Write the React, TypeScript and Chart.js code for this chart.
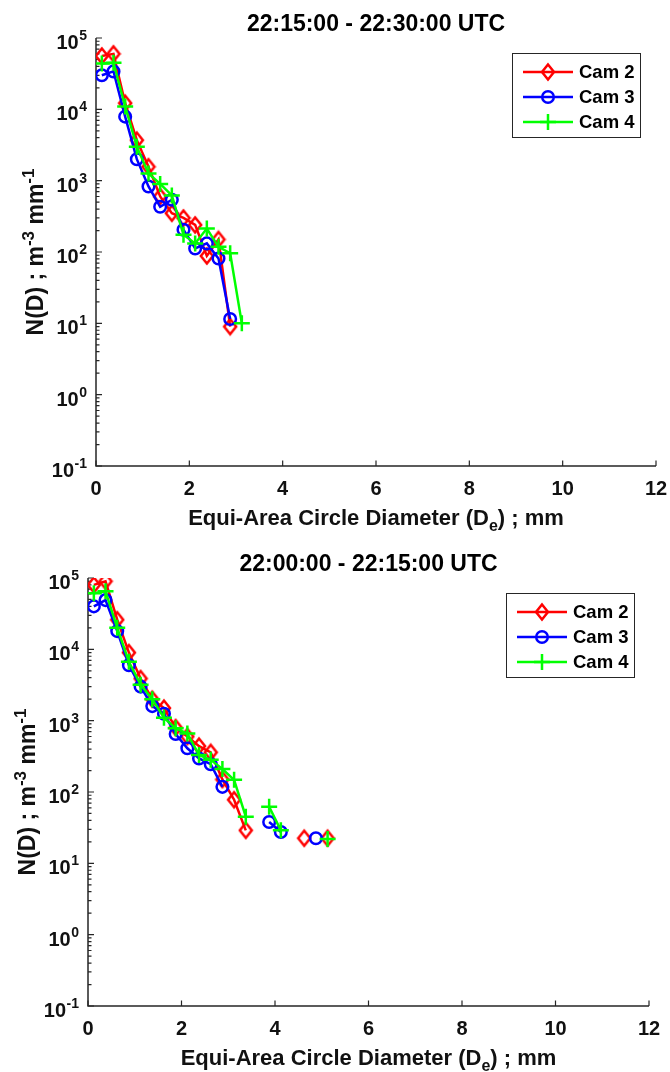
import React, { useEffect, useRef } from 'react';
import { Chart, registerables } from 'chart.js';

Chart.register(...registerables);

const FONT = '"Liberation Sans", Arial, Helvetica, sans-serif';
const AXIS_COLOR = '#262626';
const TEXT_COLOR = '#111111';
const RED = '#ff0000';
const BLUE = '#0000ff';
const GREEN = '#00ff00';

// ---- text ----
const topTitle = '22:15:00 - 22:30:00 UTC';
const bottomTitle = '22:00:00 - 22:15:00 UTC';
const seriesNames = ['Cam 2', 'Cam 3', 'Cam 4'];
const xTickValues = [0, 2, 4, 6, 8, 10, 12];
const yTickExponents = [-1, 0, 1, 2, 3, 4, 5];

// ---- top panel (22:15 - 22:30) ----
const topDiameters = [0.125, 0.375, 0.625, 0.875, 1.125, 1.375, 1.625, 1.875, 2.125, 2.375, 2.625, 2.875, 3.125];
const topCam2 = [5.6e4, 6.0e4, 1.22e4, 3.7e3, 1.57e3, 600, 350, 300, 240, 88, 150, 9, null];
const topCam3 = [3.0e4, 3.4e4, 7.9e3, 2.0e3, 830, 430, 540, 205, 112, 132, 81, 11.5, null];
const topCam4 = [4.4e4, 4.5e4, 1.1e4, 3.0e3, 1.26e3, 900, 620, 174, 132, 213, 118, 96, 10];

// ---- bottom panel (22:00 - 22:15) ----
const bottomDiameters = [
  0.125, 0.375, 0.625, 0.875, 1.125, 1.375, 1.625, 1.875, 2.125, 2.375, 2.625,
  2.875, 3.125, 3.375, 3.625, 3.875, 4.125, 4.375, 4.625, 4.875, 5.125,
];
const bottomCam2 = [8.0e4, 9.0e4, 2.6e4, 9.0e3, 3.9e3, 2.0e3, 1.5e3, 800, 600, 440, 360, 150, 78, 29, null, null, null, null, 22.5, null, 22.5];
const bottomCam3 = [4.0e4, 4.9e4, 1.8e4, 6.0e3, 3.0e3, 1.6e3, 1.25e3, 650, 410, 295, 245, 118, null, null, null, 38, 27.5, null, null, 22.5, null];
const bottomCam4 = [6.1e4, 6.5e4, 2.0e4, 6.7e3, 3.2e3, 2.0e3, 1.1e3, 780, 660, 330, 283, 210, 148, 45, null, 62, 29, null, null, null, 22];

type Part = { t: string; size: number; dy: number };

function drawRich(ctx: CanvasRenderingContext2D, parts: Part[], cx: number, baseY: number) {
  let total = 0;
  const widths = parts.map((p) => {
    ctx.font = `bold ${p.size}px ${FONT}`;
    const w = ctx.measureText(p.t).width;
    total += w;
    return w;
  });
  let x = cx - total / 2;
  ctx.textAlign = 'left';
  ctx.textBaseline = 'alphabetic';
  parts.forEach((p, i) => {
    ctx.font = `bold ${p.size}px ${FONT}`;
    ctx.fillText(p.t, x, baseY + p.dy);
    x += widths[i];
  });
}

function makeDiamond(color: string): HTMLCanvasElement {
  const c = document.createElement('canvas');
  c.width = 16;
  c.height = 20;
  const g = c.getContext('2d')!;
  g.strokeStyle = color;
  g.lineWidth = 2.5;
  g.lineJoin = 'miter';
  g.beginPath();
  g.moveTo(8, 2.5);
  g.lineTo(14, 10);
  g.lineTo(8, 17.5);
  g.lineTo(2, 10);
  g.closePath();
  g.stroke();
  return c;
}

function drawLegendMarker(ctx: CanvasRenderingContext2D, kind: number, x: number, y: number, color: string, diamond: HTMLCanvasElement) {
  ctx.strokeStyle = color;
  ctx.lineWidth = 2.5;
  if (kind === 0) {
    ctx.drawImage(diamond, x - diamond.width / 2, y - diamond.height / 2);
  } else if (kind === 1) {
    ctx.beginPath();
    ctx.arc(x, y, 5.8, 0, Math.PI * 2);
    ctx.stroke();
  } else {
    ctx.beginPath();
    ctx.moveTo(x - 8, y);
    ctx.lineTo(x + 8, y);
    ctx.moveTo(x, y - 8);
    ctx.lineTo(x, y + 8);
    ctx.stroke();
  }
}

function makeDecor(title: string, legendX: number, diamond: HTMLCanvasElement) {
  return {
    id: 'matlabDecor',
    beforeDatasetsDraw(chart: any) {
      const ctx: CanvasRenderingContext2D = chart.ctx;
      const xs = chart.scales.x;
      const ys = chart.scales.y;
      const a = chart.chartArea;
      ctx.save();
      // axes lines
      ctx.strokeStyle = AXIS_COLOR;
      ctx.lineWidth = 1.5;
      ctx.beginPath();
      ctx.moveTo(a.left, a.top);
      ctx.lineTo(a.left, a.bottom);
      ctx.lineTo(a.right, a.bottom);
      ctx.stroke();
      // x ticks (inward)
      ctx.lineWidth = 1.2;
      ctx.beginPath();
      xTickValues.forEach((v) => {
        const px = xs.getPixelForValue(v);
        ctx.moveTo(px, a.bottom);
        ctx.lineTo(px, a.bottom - 5.5);
      });
      // y ticks major + minor (inward)
      yTickExponents.forEach((e) => {
        const py = ys.getPixelForValue(Math.pow(10, e));
        ctx.moveTo(a.left, py);
        ctx.lineTo(a.left + 6, py);
        if (e < 5) {
          for (let m = 2; m <= 9; m++) {
            const pm = ys.getPixelForValue(m * Math.pow(10, e));
            ctx.moveTo(a.left, pm);
            ctx.lineTo(a.left + 3.5, pm);
          }
        }
      });
      ctx.stroke();

      // x tick labels
      ctx.fillStyle = TEXT_COLOR;
      ctx.font = `bold 20px ${FONT}`;
      ctx.textAlign = 'center';
      ctx.textBaseline = 'alphabetic';
      xTickValues.forEach((v) => {
        ctx.fillText(String(v), xs.getPixelForValue(v), a.bottom + 29);
      });

      // y tick labels 10^e
      yTickExponents.forEach((e) => {
        const py = ys.getPixelForValue(Math.pow(10, e));
        const exp = String(e);
        ctx.font = `bold 14px ${FONT}`;
        const ew = ctx.measureText(exp).width;
        const right = a.left - 9;
        ctx.textAlign = 'left';
        ctx.fillText(exp, right - ew, py + 2);
        ctx.font = `bold 20px ${FONT}`;
        ctx.textAlign = 'right';
        ctx.fillText('10', right - ew - 0.5, py + 11);
      });

      // x axis title
      drawRich(
        ctx,
        [
          { t: 'Equi-Area Circle Diameter (D', size: 22, dy: 0 },
          { t: 'e', size: 16, dy: 6 },
          { t: ') ; mm', size: 22, dy: 0 },
        ],
        (a.left + a.right) / 2,
        a.bottom + 59
      );

      // y axis title (rotated)
      ctx.save();
      ctx.translate(a.left - 53, (a.top + a.bottom) / 2);
      ctx.rotate(-Math.PI / 2);
      drawRich(
        ctx,
        [
          { t: 'N(D) ; m', size: 23, dy: 0 },
          { t: '-3', size: 17, dy: -9 },
          { t: ' mm', size: 23, dy: 0 },
          { t: '-1', size: 17, dy: -9 },
        ],
        0,
        0
      );
      ctx.restore();

      // chart title
      ctx.fillStyle = '#000000';
      ctx.font = `bold 23px ${FONT}`;
      ctx.textAlign = 'center';
      ctx.fillText(title, (a.left + a.right) / 2, a.top - 7);
      ctx.restore();
    },
    afterDatasetsDraw(chart: any) {
      const ctx: CanvasRenderingContext2D = chart.ctx;
      const a = chart.chartArea;
      const bx = legendX;
      const by = a.top + 15;
      const bw = 128;
      const bh = 84;
      ctx.save();
      ctx.fillStyle = '#ffffff';
      ctx.fillRect(bx, by, bw, bh);
      ctx.strokeStyle = AXIS_COLOR;
      ctx.lineWidth = 1;
      ctx.strokeRect(bx + 0.5, by + 0.5, bw, bh);
      const colors = [RED, BLUE, GREEN];
      seriesNames.forEach((name, i) => {
        const y = by + 19 + i * 25;
        ctx.strokeStyle = colors[i];
        ctx.lineWidth = 2.5;
        ctx.beginPath();
        ctx.moveTo(bx + 11, y);
        ctx.lineTo(bx + 61, y);
        ctx.stroke();
        drawLegendMarker(ctx, i, bx + 36, y, colors[i], diamond);
        ctx.fillStyle = '#000000';
        ctx.font = `bold 18.5px ${FONT}`;
        ctx.textAlign = 'left';
        ctx.textBaseline = 'middle';
        ctx.fillText(name, bx + 67, y + 1);
      });
      ctx.restore();
    },
  };
}

type PanelProps = {
  title: string;
  diameters: number[];
  cam2: (number | null)[];
  cam3: (number | null)[];
  cam4: (number | null)[];
  top: number;
  height: number;
  padLeft: number;
  padRight: number;
  legendX: number;
};

function Panel(props: PanelProps) {
  const ref = useRef<HTMLCanvasElement>(null);
  useEffect(() => {
    const canvas = ref.current!;
    const diamondRed = makeDiamond(RED);
    const toPts = (vals: (number | null)[]) => props.diameters.map((d, i) => ({ x: d, y: vals[i] }));
    const base = {
      borderWidth: 2.5,
      tension: 0,
      fill: false,
      pointBackgroundColor: 'rgba(0,0,0,0)',
      pointBorderWidth: 2.5,
      spanGaps: false,
    };
    const chart = new Chart(canvas, {
      type: 'line',
      data: {
        datasets: [
          {
            ...base,
            label: seriesNames[0],
            data: toPts(props.cam2) as any,
            borderColor: RED,
            pointBorderColor: RED,
            pointStyle: diamondRed as any,
            pointRadius: 7,
            order: 2,
          },
          {
            ...base,
            label: seriesNames[1],
            data: toPts(props.cam3) as any,
            borderColor: BLUE,
            pointBorderColor: BLUE,
            pointStyle: 'circle',
            pointRadius: 5.8,
            order: 1,
          },
          {
            ...base,
            label: seriesNames[2],
            data: toPts(props.cam4) as any,
            borderColor: GREEN,
            pointBorderColor: GREEN,
            pointStyle: 'cross',
            pointRadius: 8,
            order: 0,
          },
        ],
      },
      options: {
        responsive: false,
        animation: false,
        events: [],
        layout: { padding: { left: props.padLeft, right: props.padRight, top: 38, bottom: props.height - 466 } },
        plugins: { legend: { display: false }, title: { display: false }, tooltip: { enabled: false } },
        scales: {
          x: { type: 'linear', min: 0, max: 12, display: false },
          y: { type: 'logarithmic', min: 0.1, max: 1e5, display: false },
        },
      },
      plugins: [makeDecor(props.title, props.legendX, diamondRed)],
    });
    return () => chart.destroy();
  }, []);
  return (
    <canvas
      ref={ref}
      width={670}
      height={props.height}
      style={{ position: 'absolute', left: 0, top: props.top, width: 670, height: props.height, display: 'block' }}
    />
  );
}

export default function App() {
  return (
    <div style={{ position: 'absolute', left: 0, top: 0, width: 670, height: 1072, background: '#ffffff', overflow: 'hidden' }}>
      <Panel
        title={topTitle}
        diameters={topDiameters}
        cam2={topCam2}
        cam3={topCam3}
        cam4={topCam4}
        top={0}
        height={540}
        padLeft={96}
        padRight={14}
        legendX={512}
      />
      <Panel
        title={bottomTitle}
        diameters={bottomDiameters}
        cam2={bottomCam2}
        cam3={bottomCam3}
        cam4={bottomCam4}
        top={540}
        height={532}
        padLeft={88}
        padRight={21}
        legendX={506}
      />
    </div>
  );
}
